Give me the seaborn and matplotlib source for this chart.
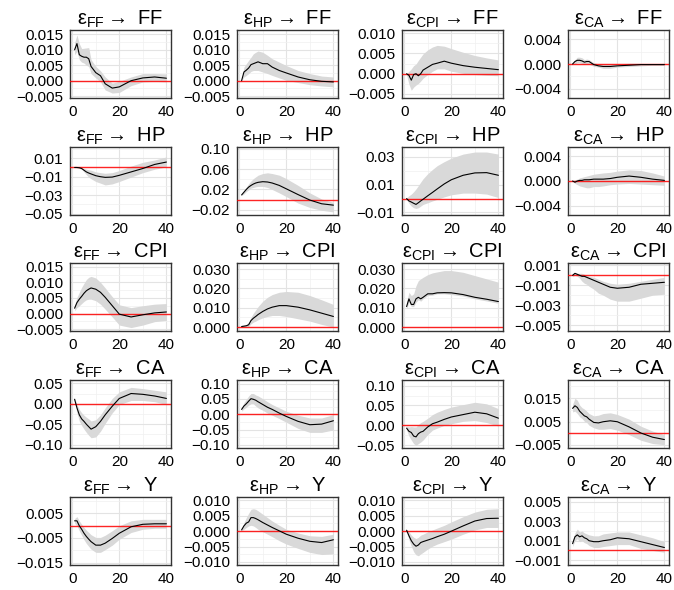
import numpy as np
import pandas as pd
import seaborn as sns
import matplotlib
matplotlib.use("Agg")
import matplotlib.pyplot as plt
from matplotlib.ticker import MultipleLocator, FixedLocator

horizon = [1, 2, 3, 4, 5, 6, 7, 8, 10, 12, 14, 17, 20, 25, 30, 35, 40]

shocks = ["FF", "HP", "CPI", "CA"]
responses = ["FF", "HP", "CPI", "CA", "Y"]

# ---- response of FF
ff_ff_mid = [0.0100, 0.0120, 0.0084, 0.0079, 0.0076, 0.0076, 0.0071, 0.0046, 0.0026, 0.0016, -0.0010, -0.0024, -0.0020, 0.0000, 0.0009, 0.0012, 0.0008]
ff_ff_hi = [0.0123, 0.0148, 0.0120, 0.0104, 0.0105, 0.0106, 0.0107, 0.0068, 0.0046, 0.0032, 0.0012, -0.0008, -0.0002, 0.0012, 0.0023, 0.0023, 0.0022]
ff_ff_lo = [0.0084, 0.0095, 0.0068, 0.0060, 0.0057, 0.0050, 0.0046, 0.0023, 0.0009, -0.0004, -0.0030, -0.0040, -0.0038, -0.0016, -0.0004, -0.0002, -0.0004]

hp_ff_mid = [0.0000, 0.0028, 0.0034, 0.0041, 0.0052, 0.0055, 0.0058, 0.0061, 0.0055, 0.0055, 0.0044, 0.0033, 0.0025, 0.0012, 0.0003, -0.0002, -0.0004]
hp_ff_hi = [0.0000, 0.0044, 0.0055, 0.0066, 0.0076, 0.0087, 0.0092, 0.0096, 0.0092, 0.0082, 0.0071, 0.0060, 0.0049, 0.0033, 0.0023, 0.0015, 0.0012]
hp_ff_lo = [0.0000, 0.0012, 0.0017, 0.0023, 0.0030, 0.0033, 0.0033, 0.0033, 0.0028, 0.0023, 0.0017, 0.0009, 0.0001, -0.0006, -0.0013, -0.0017, -0.0020]

cpi_ff_mid = [0.0000, -0.0004, -0.0016, -0.0002, 0.0000, -0.0005, 0.0000, 0.0009, 0.0016, 0.0023, 0.0026, 0.0031, 0.0026, 0.0020, 0.0016, 0.0013, 0.0010]
cpi_ff_hi = [0.0000, 0.0006, 0.0012, 0.0020, 0.0024, 0.0033, 0.0041, 0.0049, 0.0059, 0.0066, 0.0070, 0.0068, 0.0062, 0.0053, 0.0045, 0.0039, 0.0034]
cpi_ff_lo = [-0.0003, -0.0026, -0.0041, -0.0033, -0.0028, -0.0024, -0.0018, -0.0011, -0.0002, 0.0006, 0.0012, 0.0012, 0.0006, 0.0001, -0.0002, -0.0004, -0.0005]

ca_ff_mid = [0.0000, 0.0004, 0.0006, 0.0006, 0.0005, 0.0003, 0.0004, 0.0004, -0.0001, -0.0003, -0.0004, -0.0004, -0.0003, -0.0002, -0.0001, -0.0001, -0.0001]
ca_ff_hi = [0.0000, 0.0007, 0.0011, 0.0011, 0.0010, 0.0007, 0.0008, 0.0007, 0.0002, 0.0000, -0.0001, -0.0001, 0.0000, 0.0001, 0.0001, 0.0001, 0.0001]
ca_ff_lo = [0.0000, 0.0000, 0.0002, 0.0002, 0.0001, -0.0001, 0.0000, 0.0000, -0.0004, -0.0005, -0.0007, -0.0007, -0.0005, -0.0004, -0.0003, -0.0002, -0.0002]

# ---- response of HP
ff_hp_mid = [0.0000, 0.0000, -0.0003, -0.0011, -0.0030, -0.0048, -0.0060, -0.0070, -0.0089, -0.0100, -0.0107, -0.0104, -0.0085, -0.0048, -0.0011, 0.0033, 0.0059]
ff_hp_hi = [0.0000, 0.0004, 0.0002, -0.0004, -0.0011, -0.0019, -0.0025, -0.0030, -0.0048, -0.0056, -0.0063, -0.0056, -0.0033, 0.0015, 0.0056, 0.0081, 0.0115]
ff_hp_lo = [0.0000, -0.0004, -0.0010, -0.0019, -0.0048, -0.0078, -0.0104, -0.0122, -0.0152, -0.0170, -0.0189, -0.0178, -0.0152, -0.0104, -0.0056, -0.0019, 0.0007]

hp_hp_mid = [0.0093, 0.0147, 0.0200, 0.0247, 0.0280, 0.0307, 0.0327, 0.0340, 0.0353, 0.0347, 0.0327, 0.0280, 0.0213, 0.0100, -0.0007, -0.0080, -0.0107]
hp_hp_hi = [0.0107, 0.0180, 0.0247, 0.0313, 0.0367, 0.0413, 0.0447, 0.0480, 0.0513, 0.0527, 0.0513, 0.0480, 0.0413, 0.0280, 0.0133, 0.0013, -0.0053]
hp_hp_lo = [0.0080, 0.0113, 0.0160, 0.0193, 0.0227, 0.0240, 0.0253, 0.0260, 0.0260, 0.0240, 0.0200, 0.0133, 0.0060, -0.0067, -0.0153, -0.0207, -0.0240]

cpi_hp_mid = [0.0000, -0.0017, -0.0025, -0.0034, -0.0042, -0.0030, -0.0017, -0.0005, 0.0020, 0.0044, 0.0069, 0.0105, 0.0135, 0.0167, 0.0184, 0.0186, 0.0167]
cpi_hp_hi = [0.0005, 0.0020, 0.0032, 0.0049, 0.0069, 0.0093, 0.0118, 0.0142, 0.0179, 0.0209, 0.0236, 0.0265, 0.0290, 0.0319, 0.0334, 0.0334, 0.0319]
cpi_hp_lo = [-0.0005, -0.0034, -0.0054, -0.0066, -0.0071, -0.0066, -0.0054, -0.0042, -0.0030, -0.0017, -0.0005, 0.0012, 0.0027, 0.0039, 0.0039, 0.0032, 0.0007]

ca_hp_mid = [0.0000, -0.0002, 0.0000, 0.0001, 0.0001, 0.0002, 0.0002, 0.0002, 0.0003, 0.0003, 0.0003, 0.0004, 0.0006, 0.0008, 0.0006, 0.0003, 0.0001]
ca_hp_hi = [0.0000, 0.0002, 0.0003, 0.0005, 0.0006, 0.0007, 0.0008, 0.0009, 0.0011, 0.0012, 0.0013, 0.0014, 0.0016, 0.0018, 0.0017, 0.0013, 0.0008]
ca_hp_lo = [0.0000, -0.0004, -0.0006, -0.0008, -0.0009, -0.0010, -0.0011, -0.0011, -0.0009, -0.0009, -0.0008, -0.0006, -0.0005, -0.0004, -0.0005, -0.0006, -0.0007]

# ---- response of CPI
ff_cpi_mid = [0.0017, 0.0035, 0.0046, 0.0055, 0.0065, 0.0073, 0.0078, 0.0082, 0.0078, 0.0068, 0.0052, 0.0025, -0.0002, -0.0011, -0.0004, 0.0002, 0.0005]
ff_cpi_hi = [0.0025, 0.0052, 0.0068, 0.0084, 0.0097, 0.0109, 0.0116, 0.0119, 0.0114, 0.0100, 0.0082, 0.0054, 0.0028, 0.0019, 0.0025, 0.0030, 0.0032]
ff_cpi_lo = [0.0009, 0.0019, 0.0025, 0.0032, 0.0039, 0.0044, 0.0046, 0.0046, 0.0041, 0.0030, 0.0014, -0.0011, -0.0037, -0.0045, -0.0037, -0.0026, -0.0022]

hp_cpi_mid = [0.0003, 0.0005, 0.0007, 0.0012, 0.0034, 0.0046, 0.0055, 0.0065, 0.0081, 0.0094, 0.0103, 0.0111, 0.0111, 0.0103, 0.0089, 0.0072, 0.0055]
hp_cpi_hi = [0.0009, 0.0010, 0.0014, 0.0026, 0.0051, 0.0072, 0.0089, 0.0106, 0.0134, 0.0154, 0.0168, 0.0180, 0.0184, 0.0180, 0.0163, 0.0141, 0.0117]
hp_cpi_lo = [0.0000, 0.0000, 0.0002, 0.0003, 0.0017, 0.0026, 0.0031, 0.0038, 0.0048, 0.0055, 0.0060, 0.0060, 0.0055, 0.0043, 0.0031, 0.0014, 0.0000]

cpi_cpi_mid = [0.0106, 0.0146, 0.0117, 0.0117, 0.0146, 0.0154, 0.0146, 0.0154, 0.0172, 0.0172, 0.0177, 0.0178, 0.0177, 0.0168, 0.0154, 0.0144, 0.0132]
cpi_cpi_hi = [0.0129, 0.0180, 0.0163, 0.0172, 0.0214, 0.0240, 0.0249, 0.0257, 0.0271, 0.0280, 0.0285, 0.0292, 0.0292, 0.0283, 0.0266, 0.0249, 0.0232]
cpi_cpi_lo = [0.0094, 0.0129, 0.0106, 0.0106, 0.0129, 0.0141, 0.0134, 0.0146, 0.0163, 0.0165, 0.0172, 0.0172, 0.0168, 0.0160, 0.0146, 0.0135, 0.0123]

ca_cpi_mid = [0.0000, 0.0002, 0.0001, 0.0000, -0.0001, -0.0001, -0.0002, -0.0003, -0.0005, -0.0007, -0.0009, -0.0012, -0.0013, -0.0012, -0.0009, -0.0008, -0.0007]
ca_cpi_hi = [0.0001, 0.0003, 0.0002, 0.0002, 0.0002, 0.0001, 0.0000, -0.0001, -0.0002, -0.0004, -0.0006, -0.0008, -0.0009, -0.0008, -0.0006, -0.0004, -0.0002]
ca_cpi_lo = [-0.0001, 0.0000, -0.0001, -0.0003, -0.0006, -0.0008, -0.0009, -0.0011, -0.0014, -0.0018, -0.0020, -0.0024, -0.0026, -0.0026, -0.0023, -0.0020, -0.0019]

# ---- response of CA
ff_ca_mid = [0.011, -0.010, -0.027, -0.037, -0.043, -0.050, -0.056, -0.062, -0.056, -0.043, -0.027, -0.006, 0.013, 0.025, 0.023, 0.019, 0.013]
ff_ca_hi = [0.015, -0.002, -0.014, -0.022, -0.028, -0.033, -0.037, -0.042, -0.039, -0.027, -0.010, 0.013, 0.029, 0.040, 0.037, 0.033, 0.029]
ff_ca_lo = [0.005, -0.022, -0.042, -0.053, -0.062, -0.070, -0.077, -0.083, -0.081, -0.067, -0.048, -0.022, -0.002, 0.008, 0.008, 0.005, -0.002]

hp_ca_mid = [0.016, 0.027, 0.034, 0.043, 0.051, 0.049, 0.046, 0.041, 0.032, 0.023, 0.016, 0.004, -0.007, -0.023, -0.034, -0.032, -0.021]
hp_ca_hi = [0.021, 0.038, 0.049, 0.060, 0.068, 0.068, 0.063, 0.060, 0.051, 0.041, 0.032, 0.021, 0.010, -0.003, -0.012, -0.012, -0.001]
hp_ca_lo = [0.010, 0.018, 0.023, 0.030, 0.034, 0.034, 0.027, 0.021, 0.013, 0.004, -0.003, -0.014, -0.026, -0.046, -0.059, -0.059, -0.051]

cpi_ca_mid = [-0.007, -0.015, -0.018, -0.027, -0.029, -0.021, -0.017, -0.015, -0.004, 0.004, 0.008, 0.015, 0.021, 0.027, 0.033, 0.029, 0.018]
cpi_ca_hi = [-0.002, -0.004, -0.003, -0.004, -0.004, 0.002, 0.007, 0.010, 0.018, 0.027, 0.033, 0.040, 0.046, 0.052, 0.058, 0.054, 0.042]
cpi_ca_lo = [-0.012, -0.027, -0.037, -0.046, -0.050, -0.046, -0.042, -0.037, -0.023, -0.012, -0.007, 0.000, 0.004, 0.010, 0.012, 0.007, -0.002]

ca_ca_mid = [0.0106, 0.0117, 0.0110, 0.0094, 0.0084, 0.0074, 0.0070, 0.0060, 0.0046, 0.0044, 0.0049, 0.0053, 0.0049, 0.0027, 0.0001, -0.0017, -0.0027]
ca_ca_hi = [0.0123, 0.0149, 0.0141, 0.0120, 0.0109, 0.0103, 0.0094, 0.0084, 0.0074, 0.0077, 0.0084, 0.0087, 0.0080, 0.0060, 0.0030, 0.0009, -0.0006]
ca_ca_lo = [0.0091, 0.0094, 0.0084, 0.0070, 0.0063, 0.0051, 0.0046, 0.0034, 0.0023, 0.0017, 0.0017, 0.0020, 0.0013, -0.0006, -0.0030, -0.0044, -0.0049]

# ---- response of Y
ff_y_mid = [0.0019, 0.0019, -0.0001, -0.0015, -0.0031, -0.0044, -0.0055, -0.0065, -0.0079, -0.0079, -0.0071, -0.0052, -0.0031, -0.0005, 0.0005, 0.0007, 0.0007]
ff_y_hi = [0.0028, 0.0036, 0.0019, 0.0005, -0.0008, -0.0019, -0.0028, -0.0037, -0.0048, -0.0048, -0.0039, -0.0021, -0.0001, 0.0019, 0.0025, 0.0025, 0.0025]
ff_y_lo = [0.0009, -0.0001, -0.0021, -0.0039, -0.0057, -0.0072, -0.0084, -0.0095, -0.0108, -0.0108, -0.0097, -0.0079, -0.0055, -0.0028, -0.0015, -0.0011, -0.0011]

hp_y_mid = [0.0004, 0.0017, 0.0026, 0.0030, 0.0044, 0.0044, 0.0041, 0.0037, 0.0028, 0.0020, 0.0012, 0.0001, -0.0010, -0.0023, -0.0033, -0.0037, -0.0028]
hp_y_hi = [0.0006, 0.0028, 0.0044, 0.0058, 0.0071, 0.0073, 0.0071, 0.0066, 0.0055, 0.0044, 0.0033, 0.0019, 0.0006, -0.0006, -0.0015, -0.0017, -0.0010]
hp_y_lo = [0.0001, 0.0006, 0.0012, 0.0017, 0.0019, 0.0017, 0.0012, 0.0006, -0.0002, -0.0010, -0.0018, -0.0031, -0.0042, -0.0056, -0.0069, -0.0076, -0.0074]

cpi_y_mid = [0.0003, -0.0015, -0.0031, -0.0042, -0.0049, -0.0045, -0.0037, -0.0034, -0.0029, -0.0024, -0.0018, -0.0010, 0.0000, 0.0017, 0.0033, 0.0041, 0.0042]
cpi_y_hi = [0.0006, -0.0002, -0.0013, -0.0020, -0.0024, -0.0020, -0.0013, -0.0010, -0.0002, 0.0004, 0.0010, 0.0019, 0.0030, 0.0047, 0.0062, 0.0071, 0.0073]
cpi_y_lo = [-0.0002, -0.0028, -0.0049, -0.0067, -0.0077, -0.0080, -0.0074, -0.0069, -0.0058, -0.0049, -0.0042, -0.0034, -0.0026, -0.0010, 0.0004, 0.0012, 0.0012]

ca_y_mid = [0.0007, 0.0014, 0.0016, 0.0014, 0.0015, 0.0013, 0.0012, 0.0010, 0.0009, 0.0009, 0.0010, 0.0011, 0.0013, 0.0012, 0.0009, 0.0006, 0.0003]
ca_y_hi = [0.0010, 0.0018, 0.0022, 0.0019, 0.0020, 0.0018, 0.0017, 0.0016, 0.0015, 0.0015, 0.0017, 0.0018, 0.0019, 0.0019, 0.0016, 0.0013, 0.0009]
ca_y_lo = [0.0004, 0.0010, 0.0012, 0.0009, 0.0010, 0.0008, 0.0007, 0.0005, 0.0003, 0.0003, 0.0004, 0.0005, 0.0006, 0.0006, 0.0002, 0.0000, -0.0002]

irfs = [
    [(ff_ff_mid, ff_ff_lo, ff_ff_hi), (hp_ff_mid, hp_ff_lo, hp_ff_hi), (cpi_ff_mid, cpi_ff_lo, cpi_ff_hi), (ca_ff_mid, ca_ff_lo, ca_ff_hi)],
    [(ff_hp_mid, ff_hp_lo, ff_hp_hi), (hp_hp_mid, hp_hp_lo, hp_hp_hi), (cpi_hp_mid, cpi_hp_lo, cpi_hp_hi), (ca_hp_mid, ca_hp_lo, ca_hp_hi)],
    [(ff_cpi_mid, ff_cpi_lo, ff_cpi_hi), (hp_cpi_mid, hp_cpi_lo, hp_cpi_hi), (cpi_cpi_mid, cpi_cpi_lo, cpi_cpi_hi), (ca_cpi_mid, ca_cpi_lo, ca_cpi_hi)],
    [(ff_ca_mid, ff_ca_lo, ff_ca_hi), (hp_ca_mid, hp_ca_lo, hp_ca_hi), (cpi_ca_mid, cpi_ca_lo, cpi_ca_hi), (ca_ca_mid, ca_ca_lo, ca_ca_hi)],
    [(ff_y_mid, ff_y_lo, ff_y_hi), (hp_y_mid, hp_y_lo, hp_y_hi), (cpi_y_mid, cpi_y_lo, cpi_y_hi), (ca_y_mid, ca_y_lo, ca_y_hi)],
]

# y axis limits and tick labels per panel
ylims = [
    [(-0.0056, 0.0164), (-0.0056, 0.0164), (-0.006, 0.0108), (-0.0055, 0.0055)],
    [(-0.0515, 0.0222), (-0.030, 0.1033), (-0.0118, 0.037), (-0.0055, 0.0055)],
    [(-0.0056, 0.0162), (-0.002, 0.0331), (-0.002, 0.0331), (-0.0056, 0.00124)],
    [(-0.108, 0.058), (-0.110, 0.112), (-0.057, 0.114), (-0.0063, 0.0227)],
    [(-0.0159, 0.0115), (-0.011, 0.0111), (-0.011, 0.0111), (-0.0015, 0.0055)],
]
yticks = [
    [[-0.005, 0, 0.005, 0.010, 0.015], [-0.005, 0, 0.005, 0.010, 0.015], [-0.005, 0, 0.005, 0.010], [-0.004, 0, 0.004]],
    [[-0.05, -0.03, -0.01, 0.01], [-0.02, 0.02, 0.06, 0.10], [-0.01, 0.01, 0.03], [-0.004, 0, 0.004]],
    [[-0.005, 0, 0.005, 0.010, 0.015], [0, 0.010, 0.020, 0.030], [0, 0.010, 0.020, 0.030], [-0.005, -0.003, -0.001, 0.001]],
    [[-0.10, -0.05, 0, 0.05], [-0.10, -0.05, 0, 0.05, 0.10], [-0.05, 0, 0.05, 0.10], [-0.005, 0.005, 0.015]],
    [[-0.015, -0.005, 0.005], [-0.010, -0.005, 0, 0.005, 0.010], [-0.010, -0.005, 0, 0.005, 0.010], [-0.001, 0.001, 0.003, 0.005]],
]
ydigits = [[3, 3, 3, 3], [2, 2, 2, 3], [3, 3, 3, 3], [2, 2, 2, 3], [3, 3, 3, 3]]

sns.set_style("white")
plt.rcParams["font.family"] = ["Liberation Sans", "DejaVu Sans"]
plt.rcParams["mathtext.default"] = "regular"
plt.rcParams["text.color"] = "black"
plt.rcParams["xtick.color"] = "black"
plt.rcParams["ytick.color"] = "black"

W, H = 674, 590
fig = plt.figure(figsize=(W / 100, H / 100), dpi=100)

col_left = [70, 237, 402, 568]
row_top = [30, 147, 263, 380, 497]
pw, ph = 101, 68

for i, resp in enumerate(responses):
    for j, shock in enumerate(shocks):
        ax = fig.add_axes([col_left[j] / W, 1 - (row_top[i] + ph) / H, pw / W, ph / H])
        mid, lo, hi = irfs[i][j]
        df = pd.DataFrame({"h": horizon, "irf": mid, "lo": lo, "hi": hi})

        ax.fill_between(df["h"], df["lo"], df["hi"], color="#d9d9d9", lw=0, zorder=2)
        ax.axhline(0, color="red", lw=1.0, alpha=0.85, zorder=3)
        sns.lineplot(data=df, x="h", y="irf", color="black", lw=0.8, ax=ax, zorder=4)

        ax.set_xlim(-0.95, 41.95)
        ax.set_ylim(*ylims[i][j])
        ax.xaxis.set_major_locator(FixedLocator([0, 20, 40]))
        ax.xaxis.set_minor_locator(FixedLocator([10, 30]))
        ticks = yticks[i][j]
        step = ticks[1] - ticks[0]
        ax.set_yticks(ticks)
        ax.set_yticklabels([f"{t:.{ydigits[i][j]}f}".replace("-", "\u2212") if abs(t) > 1e-12 else f"{0:.{ydigits[i][j]}f}" for t in ticks])
        ax.yaxis.set_minor_locator(MultipleLocator(step / 2))

        ax.grid(which="major", color="#e3e3e3", lw=0.8)
        ax.grid(which="minor", color="#f0f0f0", lw=0.5)
        ax.set_axisbelow(True)
        ax.tick_params(which="both", length=0, labelsize=11, pad=5, colors="black")
        for s in ax.spines.values():
            s.set_color("#333333")
            s.set_linewidth(1.0)
            s.set_visible(True)
        ax.set_xlabel("")
        ax.set_ylabel("")
        ax.set_title(f"\u03b5$_{{{shock}}}\\rightarrow$ {resp}", fontsize=14.5, pad=4, color="black")

fig.savefig("out.png", dpi=100)
